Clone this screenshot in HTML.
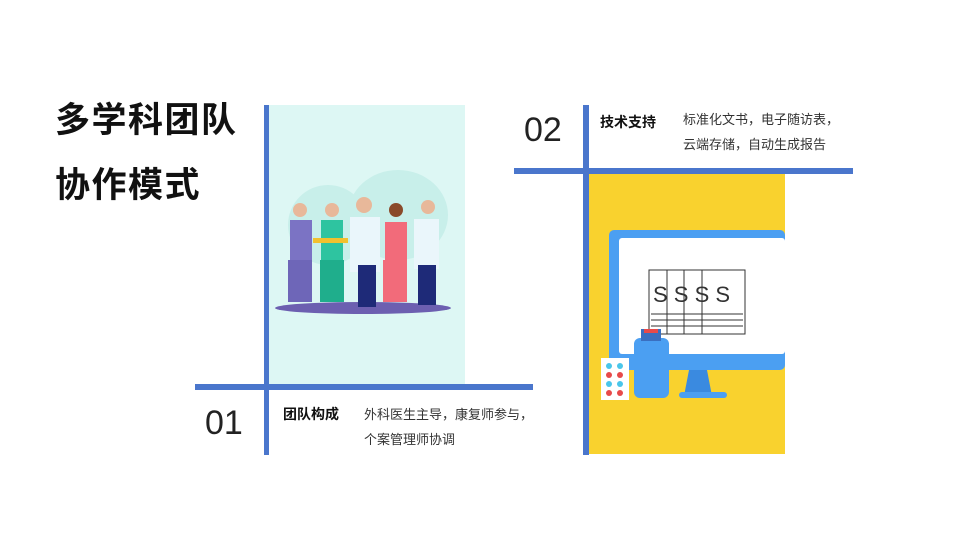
<!DOCTYPE html>
<html><head><meta charset="utf-8"><style>
body{margin:0;background:#fff;}
.wrap{position:relative;width:960px;height:540px;overflow:hidden;font-family:"Liberation Sans","Noto Sans CJK SC",sans-serif;}
.a{position:absolute;}
</style></head><body><div class="wrap">
<div class="a" style="left:55px;top:88px;font-size:35px;font-weight:bold;color:#111;line-height:65px;letter-spacing:1.5px">多学科团队<br>协作模式</div>

<div class="a" style="left:268px;top:105px;width:197px;height:280px;background:#ddf7f4"></div>
<svg class="a" style="left:268px;top:105px" width="197" height="280">
<ellipse cx="60" cy="120" rx="40" ry="40" fill="#c8efea"/><ellipse cx="130" cy="110" rx="50" ry="45" fill="#c8efea"/>
<ellipse cx="95" cy="203" rx="88" ry="6" fill="#6c5fb0"/>
<rect x="22" y="115" width="22" height="40" fill="#7b73c4"/><rect x="20" y="155" width="24" height="42" fill="#6e66b8"/><circle cx="32" cy="105" r="7" fill="#e8b89a"/>
<rect x="53" y="115" width="22" height="40" fill="#2ec4a0"/><rect x="52" y="155" width="24" height="42" fill="#1fae8c"/><circle cx="64" cy="105" r="7" fill="#e8b89a"/>
<rect x="45" y="133" width="35" height="5" fill="#f2c12e"/>
<rect x="82" y="112" width="30" height="55" fill="#eaf6fb"/><rect x="90" y="160" width="18" height="42" fill="#1e2a78"/><circle cx="96" cy="100" r="8" fill="#e8b89a"/>
<rect x="117" y="117" width="22" height="40" fill="#f26b7a"/><rect x="115" y="155" width="24" height="42" fill="#f26b7a"/><circle cx="128" cy="105" r="7" fill="#8a4a2a"/>
<rect x="146" y="114" width="25" height="50" fill="#eaf6fb"/><rect x="150" y="160" width="18" height="40" fill="#1e2a78"/><circle cx="160" cy="102" r="7" fill="#e8b89a"/>
</svg>
<div class="a" style="left:264px;top:105px;width:5px;height:350px;background:#4a76cc"></div>
<div class="a" style="left:195px;top:384px;width:338px;height:6px;background:#4a76cc"></div>
<div class="a" style="left:205px;top:404px;font-size:34px;color:#222">01</div>
<div class="a" style="left:283px;top:404px;font-size:14px;font-weight:bold;color:#111">团队构成</div>
<div class="a" style="left:364px;top:402px;font-size:13px;color:#333;line-height:25px">外科医生主导，康复师参与，<br>个案管理师协调</div>

<div class="a" style="left:589px;top:174px;width:196px;height:280px;background:#f9d22e"></div>
<svg class="a" style="left:589px;top:174px" width="196" height="280">
<rect x="20" y="56" width="176" height="140" rx="5" fill="#4b9ff2"/>
<rect x="30" y="64" width="166" height="116" rx="3" fill="#fff"/>
<polygon points="100,196 118,196 123,222 95,222" fill="#3a8ae0"/><rect x="90" y="218" width="48" height="6" rx="3" fill="#4b9ff2"/>
<rect x="60" y="96" width="96" height="64" fill="#fff" stroke="#333"/>
<text x="64" y="128" font-size="22" fill="#333" font-family="Liberation Sans">S S S S</text>
<line x1="78" y1="96" x2="78" y2="160" stroke="#333"/><line x1="95" y1="96" x2="95" y2="160" stroke="#333"/><line x1="113" y1="96" x2="113" y2="160" stroke="#333"/>
<line x1="62" y1="140" x2="154" y2="140" stroke="#333"/><line x1="62" y1="146" x2="154" y2="146" stroke="#333"/><line x1="62" y1="152" x2="154" y2="152" stroke="#333"/>
<rect x="45" y="164" width="35" height="60" rx="6" fill="#4b9ff2"/><rect x="52" y="155" width="20" height="12" fill="#3a6fc0"/><rect x="55" y="155" width="14" height="4" fill="#e84a4a"/>
<rect x="12" y="184" width="28" height="42" fill="#fff"/>
<circle cx="20" cy="192" r="3" fill="#4ac6ea"/><circle cx="31" cy="192" r="3" fill="#4ac6ea"/><circle cx="20" cy="201" r="3" fill="#e84a4a"/><circle cx="31" cy="201" r="3" fill="#e84a4a"/><circle cx="20" cy="210" r="3" fill="#4ac6ea"/><circle cx="31" cy="210" r="3" fill="#4ac6ea"/><circle cx="20" cy="219" r="3" fill="#e84a4a"/><circle cx="31" cy="219" r="3" fill="#e84a4a"/>
</svg>
<div class="a" style="left:583px;top:105px;width:6px;height:350px;background:#4a76cc"></div>
<div class="a" style="left:514px;top:168px;width:339px;height:6px;background:#4a76cc"></div>
<div class="a" style="left:524px;top:111px;font-size:34px;color:#222">02</div>
<div class="a" style="left:600px;top:112px;font-size:14px;font-weight:bold;color:#111">技术支持</div>
<div class="a" style="left:683px;top:107px;font-size:13px;color:#333;line-height:25px">标准化文书，电子随访表，<br>云端存储，自动生成报告</div>
</div></body></html>
